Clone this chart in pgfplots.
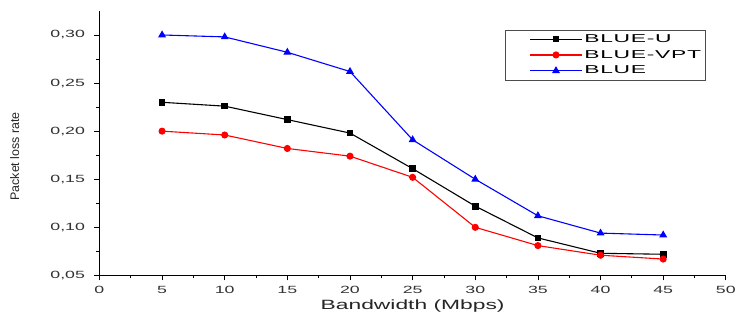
\documentclass[border=0pt]{standalone}
\usepackage{fontspec}
\setmainfont{Liberation Sans}
\newfontfamily\widefont[FakeStretch=1.7]{Liberation Sans}
\newfontfamily\legfont[FakeStretch=2.0,LetterSpace=6]{Liberation Sans}
\usepackage{pgfplots}
\pgfplotsset{compat=1.18}
\begin{document}
\begin{tikzpicture}
\begin{axis}[
  scale only axis,
  width=630bp, height=266bp,
  xmin=0, xmax=50, ymin=0.05, ymax=0.325,
  axis lines=left,
  axis line style={-, line width=0.9bp},
  xtick={0,5,...,50},
  ytick={0.05,0.10,...,0.30},
  minor x tick num=1,
  minor y tick num=1,
  tick align=outside,
  major tick length=5bp,
  minor tick length=3bp,
  tick style={black, line width=0.8bp},
  /pgf/number format/assume math mode=true,
  yticklabel style={/pgf/number format/.cd, fixed, fixed zerofill, precision=2, use comma, /tikz/.cd, xshift=-6bp},
  xticklabel style={yshift=-2bp},
  ticklabel style={font=\widefont\fontsize{10.5bp}{12bp}\selectfont, text=black!80},
  xlabel={Bandwidth (Mbps)},
  ylabel={Packet loss rate},
  xlabel style={font=\widefont\fontsize{13.5bp}{15bp}\selectfont, text=black!85, yshift=0bp},
  ylabel style={font=\fontsize{12.5bp}{14bp}\selectfont, text=black!85, at={(rel axis cs:0,0.45)}, anchor=south, rotate=0, yshift=77bp},
  legend style={at={(rel axis cs:0.968,0.929)}, anchor=north east, draw=black!70, line width=0.6bp,
    font=\legfont\fontsize{11.5bp}{12bp}\selectfont, row sep=2.5bp, inner sep=2.5bp},
  legend cell align=left,
  legend image code/.code={\path (-22bp,0bp); \draw[#1, mark repeat=2, mark phase=2] plot coordinates {(0bp,0bp) (26bp,0bp) (52bp,0bp)};},
]
\addplot[black, line width=1.1bp, mark=square*, mark size=2.8bp] coordinates {
 (5,0.230) (10,0.226) (15,0.212) (20,0.198) (25,0.161) (30,0.122) (35,0.089) (40,0.073) (45,0.072)};
\addlegendentry{BLUE-U}
\addplot[red, line width=1.1bp, mark=*, mark size=3bp] coordinates {
 (5,0.200) (10,0.196) (15,0.182) (20,0.174) (25,0.152) (30,0.100) (35,0.081) (40,0.071) (45,0.067)};
\addlegendentry{BLUE-VPT}
\addplot[blue, line width=1.1bp, mark=triangle*, mark size=3.5bp] coordinates {
 (5,0.300) (10,0.298) (15,0.282) (20,0.262) (25,0.191) (30,0.150) (35,0.112) (40,0.094) (45,0.092)};
\addlegendentry{BLUE}
\end{axis}
\path[use as bounding box] ([shift={(-100bp,-44bp)}]current axis.south west) rectangle ++(739bp,321bp);
\end{tikzpicture}
\end{document}
